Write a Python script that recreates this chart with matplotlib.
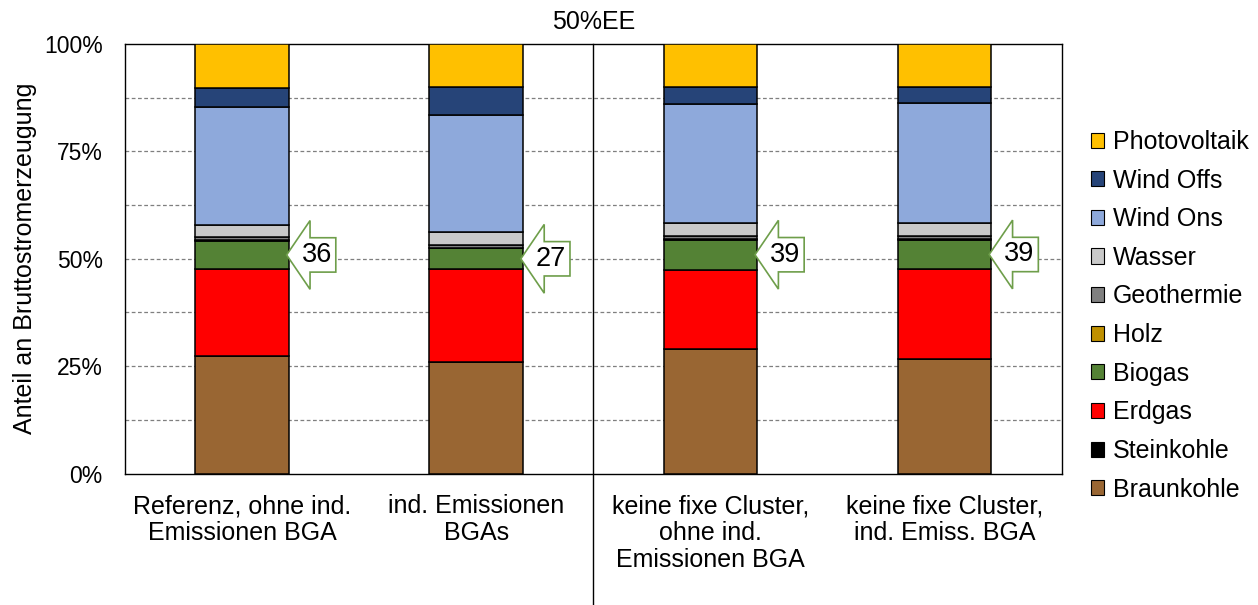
import numpy as np
import matplotlib
matplotlib.use("Agg")
import matplotlib.pyplot as plt
from matplotlib.patches import Polygon, Patch
from matplotlib.ticker import FixedLocator, PercentFormatter

plt.rcParams['font.family'] = ['Liberation Sans', 'DejaVu Sans']

# scenario labels
categories = [
    "Referenz, ohne ind.\nEmissionen BGA",
    "ind. Emissionen\nBGAs",
    "keine fixe Cluster,\nohne ind.\nEmissionen BGA",
    "keine fixe Cluster,\nind. Emiss. BGA",
]

# shares of gross generation in %, bottom to top
braunkohle = [27.4, 25.9, 28.9, 26.7]
steinkohle = [0.0, 0.0, 0.0, 0.0]
erdgas = [20.3, 21.7, 18.6, 20.9]
biogas = [6.4, 4.8, 6.9, 6.8]
holz = [0.2, 0.2, 0.2, 0.2]
geothermie = [0.7, 0.5, 0.8, 0.8]
wasser = [2.9, 3.2, 2.9, 2.9]
wind_ons = [27.5, 27.1, 27.7, 27.9]
wind_offs = [4.4, 6.6, 4.0, 3.8]
photovoltaik = [10.2, 10.0, 10.0, 10.0]

# values shown in the arrows next to the biogas segment
arrow_values = [36, 27, 39, 39]

series = [
    ("Braunkohle", braunkohle, "#996633"),
    ("Steinkohle", steinkohle, "#000000"),
    ("Erdgas", erdgas, "#FF0000"),
    ("Biogas", biogas, "#548235"),
    ("Holz", holz, "#BF9000"),
    ("Geothermie", geothermie, "#808080"),
    ("Wasser", wasser, "#C9C9C9"),
    ("Wind Ons", wind_ons, "#8EA9DB"),
    ("Wind Offs", wind_offs, "#264478"),
    ("Photovoltaik", photovoltaik, "#FFC000"),
]

fs = 18
fig = plt.figure(figsize=(12.58, 6.05), dpi=100)
ax = fig.add_axes([0.0994, 0.2172, 0.7446, 0.7101])

x = np.arange(len(categories))
bottom = np.zeros(len(categories))
for name, vals, col in series:
    ax.bar(x, vals, width=0.4, bottom=bottom, color=col, edgecolor="black",
           linewidth=1.1, zorder=3)
    bottom += np.array(vals)

ax.set_xlim(-0.5, 3.5)
ax.set_ylim(0, 100)
ax.yaxis.set_major_locator(FixedLocator([0, 25, 50, 75, 100]))
ax.yaxis.set_major_formatter(PercentFormatter(decimals=0))
for g in [12.5, 25, 37.5, 50, 62.5, 75, 87.5]:
    ax.axhline(g, color="#7f7f7f", linestyle=(0, (3, 2)), linewidth=0.9, zorder=1)

ax.set_xticks(x)
ax.set_xticklabels(categories, fontsize=fs, linespacing=1.14)
ax.tick_params(axis="x", length=0, pad=15)
ax.tick_params(axis="y", length=0, pad=16, labelsize=16.5)
for s in ax.spines.values():
    s.set_color("black")
    s.set_linewidth(1.0)

ax.set_ylabel("Anteil an Bruttostromerzeugung", fontsize=fs)
ax.yaxis.set_label_coords(-0.094, 0.5)
ax.text(0.5, 1.051, "50%EE", transform=ax.transAxes, ha="center", va="center",
        fontsize=fs)

# divider between the two scenario groups
ax.plot([1.5, 1.5], [1, -0.31], transform=ax.get_xaxis_transform(),
        color="black", linewidth=1.0, clip_on=False, zorder=4)

# block arrows pointing at biogas
base = np.array(braunkohle) + np.array(steinkohle) + np.array(erdgas)
for i, val in enumerate(arrow_values):
    ym = base[i] + biogas[i] / 2
    xt = x[i] + 0.19
    xh = x[i] + 0.29
    xr = x[i] + 0.40
    pts = [(xt, ym), (xh, ym + 8), (xh, ym + 4), (xr, ym + 4),
           (xr, ym - 4), (xh, ym - 4), (xh, ym - 8)]
    ax.add_patch(Polygon(pts, closed=True, facecolor="white",
                         edgecolor="#6E9E4A", linewidth=1.2, zorder=5))
    ax.text(x[i] + 0.318, ym, str(val), ha="center", va="center",
            fontsize=19.5, zorder=6)

handles = [Patch(facecolor=col, edgecolor="black", linewidth=0.8, label=name)
           for name, vals, col in series][::-1]
fig.legend(handles=handles, loc="center left", bbox_to_anchor=(0.849, 0.478),
           frameon=False, fontsize=fs, handlelength=0.55, handleheight=0.55,
           handletextpad=0.35, labelspacing=0.585)

fig.savefig("out.png", dpi=100)
